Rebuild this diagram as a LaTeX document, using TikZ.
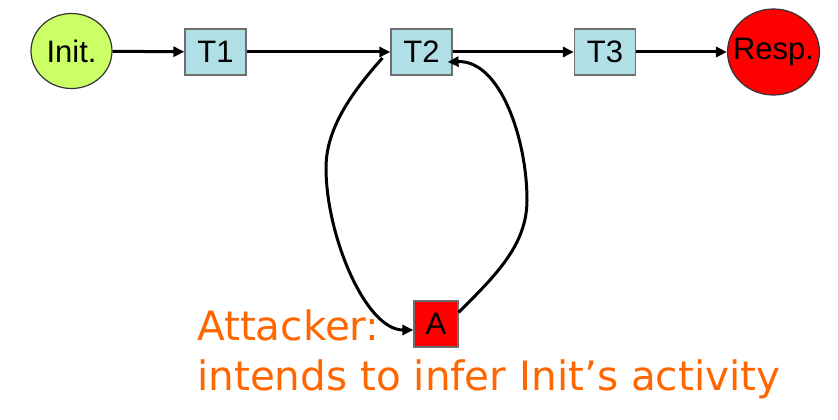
\documentclass[tikz,border=0pt]{standalone}
\usepackage{fontspec}
\setmainfont{Liberation Sans}
\newfontfamily\attfont{DejaVu Sans}
\usetikzlibrary{shapes.geometric,arrows.meta}
\definecolor{initgreen}{RGB}{204,255,102}
\definecolor{tblue}{RGB}{176,224,230}
\definecolor{attorange}{RGB}{255,102,0}
\definecolor{boxgray}{RGB}{110,110,110}
\tikzset{
  lbl/.style={font=\fontsize{31}{34}\selectfont, text=black},
  tbox/.style={lbl, draw=boxgray, line width=1.2pt, fill=tblue, minimum width=61pt, minimum height=46pt, inner sep=0pt},
  endpt/.style={lbl, ellipse, draw=black!80, line width=1.2pt, inner xsep=-8pt, inner ysep=0pt},
  conn/.style={line width=3pt, -{Triangle[length=11pt,width=10pt]}},
  atttext/.style={font=\attfont\fontsize{40.5}{48}\selectfont, text=attorange, inner sep=0pt, anchor=base west}
}
\begin{document}
\begin{tikzpicture}[x=1pt,y=-1pt]
\useasboundingbox (0,0) rectangle (838,420);
\node[endpt, fill=initgreen, minimum width=81pt, minimum height=75pt] (init) at (71.5,51) {Init.};
\node[tbox] (t1) at (215.5,52) {T1};
\node[tbox] (t2) at (421.5,52) {T2};
\node[tbox] (t3) at (605,52) {T3};
\node[endpt, fill=red, minimum width=89pt, minimum height=86pt] (resp) at (773.5,52) {Resp.};
\node[lbl, draw=boxgray, line width=1.2pt, fill=red, minimum width=44pt, minimum height=46pt, inner sep=0pt] (a) at (436,324) {A};
\node[atttext] (att1) at (197,340) {Attacker:};
\node[atttext] (att2) at (197,390) {intends to infer Init’s activity};
\draw[conn] (init) -- (t1);
\draw[conn] (t1) -- (t2);
\draw[conn] (t2) -- (t3);
\draw[conn] (t3) -- (resp);
\draw[conn] ([shift={(-8,6)}]t2.west) .. controls +(-33,37) and +(0,-38) .. (326,168)
  .. controls +(0,67) and +(-48,0) .. ([yshift=-6]a.west);
\draw[conn] ([shift={(0,12)}]a.north east) .. controls +(37,-37) and +(0,45) .. (527,200)
  .. controls +(0,-60) and +(53,-2) .. ([shift={(-5,10)}]t2.east);
\end{tikzpicture}
\end{document}
